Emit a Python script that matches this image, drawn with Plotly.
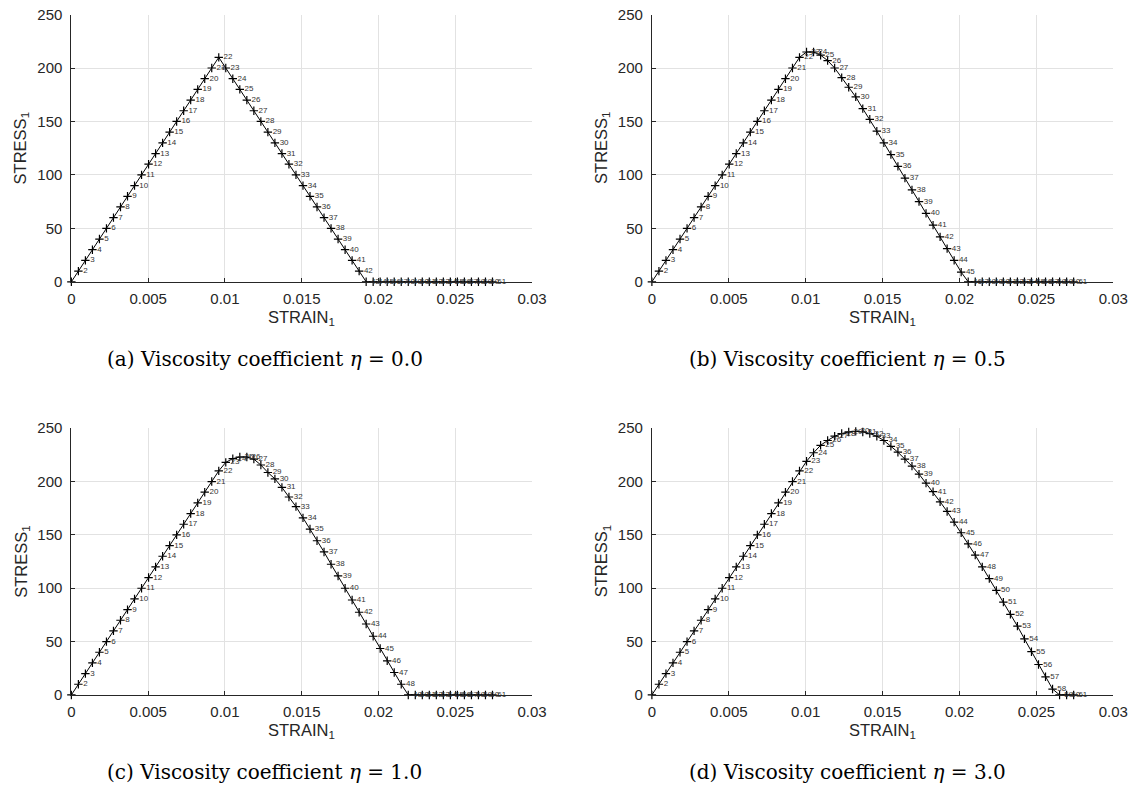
import plotly.graph_objects as go

# ---------------- data ----------------
STRAIN = [0, 0.000457, 0.000914, 0.001371, 0.001828, 0.002285, 0.002742, 0.003199, 0.003656, 0.004113,
          0.00457, 0.005027, 0.005484, 0.005941, 0.006398, 0.006855, 0.007312, 0.007769, 0.008226, 0.008683,
          0.00914, 0.009597, 0.010054, 0.010511, 0.010968, 0.011425, 0.011882, 0.012339, 0.012796, 0.013253,
          0.01371, 0.014167, 0.014624, 0.015081, 0.015538, 0.015995, 0.016452, 0.016909, 0.017366, 0.017823,
          0.01828, 0.018737, 0.019194, 0.019651, 0.020108, 0.020565, 0.021022, 0.021479, 0.021936, 0.022393,
          0.02285, 0.023307, 0.023764, 0.024221, 0.024678, 0.025135, 0.025592, 0.026049, 0.026506, 0.026963,
          0.02742]

STRESS_A = [0, 10, 20, 30, 40, 50, 60, 70, 80, 90, 100, 110, 120, 130, 140, 150, 160, 170, 180, 190, 200, 210,
            200, 190, 180, 170, 160, 150, 140, 130, 120, 110, 100, 90, 80, 70, 60, 50, 40, 30, 20, 10,
            0, 0, 0, 0, 0, 0, 0, 0, 0, 0, 0, 0, 0, 0, 0, 0, 0, 0, 0]

STRESS_B = [0, 10, 20, 30, 40, 50, 60, 70, 80, 90, 100, 110, 120, 130, 140, 150, 160, 170, 180, 190, 200,
            210, 215, 215, 212, 207, 200, 191, 182, 173, 162, 152, 141, 130, 119, 108, 97, 86, 75, 64, 53, 42, 31, 20, 9,
            0, 0, 0, 0, 0, 0, 0, 0, 0, 0, 0, 0, 0, 0, 0, 0]

STRESS_C = [0, 10, 20, 30, 40, 50, 60, 70, 80, 90, 100, 110, 120, 130, 140, 150, 160, 170, 180, 190, 200,
            210, 218, 221.5, 223, 223, 221, 215.5, 208.5, 202.5, 194.5, 185.5, 176.5, 166, 155.5, 144.5, 134,
            122.5, 111.5, 100, 89, 77.5, 66.5, 55, 43.5, 32, 21, 10,
            0, 0, 0, 0, 0, 0, 0, 0, 0, 0, 0, 0, 0]

STRESS_D = [0, 10, 20, 30, 40, 50, 60, 70, 80, 90, 100, 110, 120, 130, 140, 150, 160, 170, 180, 190, 200,
            210, 219, 227, 234, 238.5, 242.5, 245, 246.5, 247, 246.5, 245, 242.5, 238.5, 233, 227.5, 221,
            214.5, 207, 198.5, 190.5, 181, 172, 162, 152, 141.5, 131, 120, 109, 98, 87, 75.5, 64.5, 52.5,
            40.5, 28.5, 17, 5.5,
            0, 0, 0]

POINT_LABELS = [""] + [str(i) for i in range(2, 62)]

CAPTIONS = ["(a) Viscosity coefficient <i>η</i> = 0.0",
            "(b) Viscosity coefficient <i>η</i> = 0.5",
            "(c) Viscosity coefficient <i>η</i> = 1.0",
            "(d) Viscosity coefficient <i>η</i> = 3.0"]

X_TICKS = [0, 0.005, 0.01, 0.015, 0.02, 0.025, 0.03]
X_TICK_TEXT = ["0", "0.005", "0.01", "0.015", "0.02", "0.025", "0.03"]
Y_TICKS = [0, 50, 100, 150, 200, 250]

# ---------------- layout geometry ----------------
W, H = 1148, 801
def px_x(p): return p / W
def px_y(p): return 1 - p / H

panels = [
    # (left, right, top, bottom) in page pixels
    (68.5, 537, 5.7, 278.7),
    (658.8, 1128, 5.7, 278.7),
    (68.5, 537, 428.3, 700.8),
    (658.8, 1128, 428.3, 700.8),
]
caption_x = [265, 858, 265, 858]
series = [STRESS_A, STRESS_B, STRESS_C, STRESS_D]

fig = go.Figure()
layout = dict(width=W, height=H, margin=dict(l=0, r=0, t=0, b=0), autosize=False,
              plot_bgcolor="white", paper_bgcolor="white", showlegend=False,
              font=dict(family="Liberation Sans, Arial, sans-serif", color="#262626"))
annotations = []

for i, ((l, r, t, b), stress) in enumerate(zip(panels, series)):
    k = "" if i == 0 else str(i + 1)
    fig.add_trace(go.Scatter(
        x=STRAIN, y=stress, mode="lines+markers+text",
        text=POINT_LABELS, textposition="middle right",
        textfont=dict(size=8, color="#333333", family="Liberation Sans, Arial"),
        line=dict(color="black", width=1),
        marker=dict(symbol="cross-thin", size=6, line=dict(color="black", width=1.2), color="black"),
        xaxis="x" + k, yaxis="y" + k, cliponaxis=False,
    ))
    axis_common = dict(showgrid=True, gridcolor="#e2e2e2", gridwidth=1, zeroline=False,
                       showline=True, linecolor="#262626", linewidth=1, ticks="inside",
                       ticklen=4, tickcolor="#262626", tickfont=dict(size=15, color="#262626"),
                       mirror=False)
    layout["xaxis" + k] = dict(axis_common, domain=[px_x(l), px_x(r)], range=[0, 0.03],
                               tickvals=X_TICKS, ticktext=X_TICK_TEXT, anchor="y" + k,
                               ticklabelstandoff=3)
    layout["yaxis" + k] = dict(axis_common, domain=[px_y(b), px_y(t)], range=[0, 250],
                               tickvals=Y_TICKS, anchor="x" + k, ticklabelstandoff=5)
    cx = (l + r) / 2
    annotations.append(dict(x=px_x(cx), y=px_y(b + 37), xref="paper", yref="paper",
                            text="STRAIN<sub>1</sub>", showarrow=False, xanchor="center", yanchor="middle",
                            font=dict(size=16.5, color="#262626")))
    annotations.append(dict(x=px_x(l - 51), y=px_y((t + b) / 2), xref="paper", yref="paper",
                            text="STRESS<sub>1</sub>", showarrow=False, textangle=-90,
                            xanchor="center", yanchor="middle",
                            font=dict(size=16.5, color="#262626")))
    annotations.append(dict(x=px_x(caption_x[i]), y=px_y(b + 79), xref="paper", yref="paper",
                            text=CAPTIONS[i], showarrow=False, xanchor="center", yanchor="middle",
                            font=dict(size=20, color="black", family="DejaVu Serif, Liberation Serif, serif")))

layout["annotations"] = annotations
fig.update_layout(**layout)
# remove the default 8px page margin so the figure fills the 1148x801 window exactly
fig.write_html("out.html", config={"displayModeBar": False},
               post_script="document.body.style.margin='0';document.body.style.overflow='hidden';")
